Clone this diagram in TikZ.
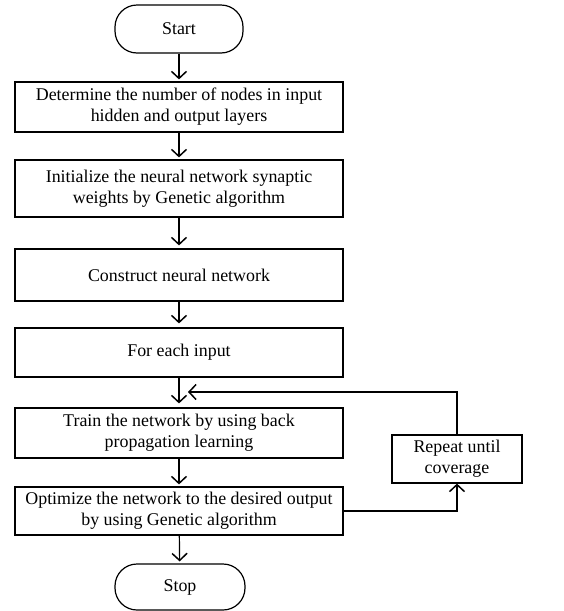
\documentclass[tikz,border=0pt]{standalone}
\usepackage{fontspec}
\setmainfont{Liberation Serif}
\usetikzlibrary{arrows.meta}
\begin{document}
\begin{tikzpicture}[x=1pt,y=-1pt,
  every node/.style={font=\fontsize{17.9}{21}\selectfont, align=center, inner sep=0pt},
  procbox/.style={draw, line width=1.2pt, minimum width=328pt},
  term/.style={draw, line width=1.2pt, rounded corners=22pt},
  flow/.style={line width=1.2pt, -{Straight Barb[length=7pt,width=15pt,line width=1.5pt]}}]
\useasboundingbox (0,0) rectangle (563,611);
\node[term, minimum width=128pt, minimum height=48pt] (start) at (179,29) {Start};
\node[procbox, minimum height=50pt] (b1) at (179,107) {Determine the number of nodes in input\\hidden and output layers};
\node[procbox, minimum height=57pt] (b2) at (179,188.5) {Initialize the neural network synaptic\\weights by Genetic algorithm};
\node[procbox, minimum height=52pt] (b3) at (179,275) {Construct neural network};
\node[procbox, minimum height=49pt] (b4) at (179,352.5) {For each input};
\node[procbox, minimum height=50pt] (b5) at (179,433) {Train the network by using back\\propagation learning};
\node[procbox, minimum height=48pt] (b6) at (179,511) {Optimize the network to the desired output\\by using Genetic algorithm};
\node[term, minimum width=130pt, minimum height=46pt] (stop) at (180,587) {Stop};
\node[draw, line width=1.2pt, minimum width=130pt, minimum height=48pt] (rep) at (457,459) {Repeat until\\coverage};
\coordinate (fb) at (188,392);
\draw[flow, shorten >=2pt] (start) -- (b1);
\draw[flow, shorten >=2pt] (b1) -- (b2);
\draw[flow, shorten >=3pt] (b2) -- (b3);
\draw[flow, shorten >=4pt] (b3) -- (b4);
\draw[flow, shorten >=4pt] (b4) -- (b5);
\draw[flow, shorten >=2pt] (b5) -- (b6);
\draw[flow, shorten >=2pt] (b6) -- (stop);
\draw[flow] (b6.east) -| (rep.south);
\draw[flow] (rep.north) |- (fb);
\end{tikzpicture}
\end{document}
